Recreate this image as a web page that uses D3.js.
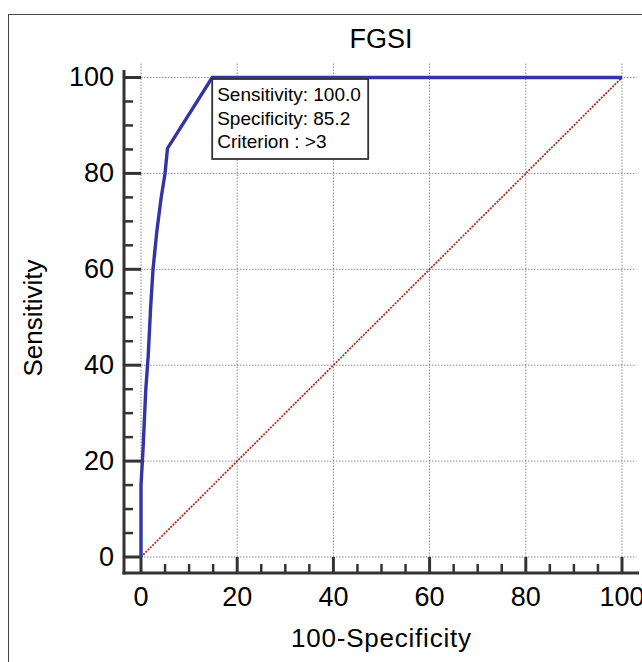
<!DOCTYPE html>
<html><head><meta charset="utf-8">
<script src="https://cdn.jsdelivr.net/npm/d3@7/dist/d3.min.js"></script>
<style>body{margin:0;background:#fff}svg{display:block}text{font-family:Arial,"Liberation Sans",sans-serif;fill:#000}</style>
</head><body>
<svg id="c" width="642" height="662"></svg>
<script>
const title = "FGSI";
const xLabel = "100-Specificity";
const yLabel = "Sensitivity";
const majorTicks = [0, 20, 40, 60, 80, 100];
const minorTicks = [5,10,15,25,30,35,45,50,55,65,70,75,85,90,95];
const rocFpr  = [0, 0, 0.4, 1.0, 1.5, 2.0, 2.5, 3.3, 4.2, 5.0, 5.5, 14.8, 100];
const rocSens = [0, 15, 22, 35, 42, 52, 60, 68, 75, 80, 85.2, 100, 100];
const diagX = [0, 100];
const diagY = [0, 100];
const boxLines = ["Sensitivity: 100.0", "Specificity: 85.2", "Criterion : >3"];
const criterion = [14.8, 100];

const svg = d3.select("#c");
const x = d3.scaleLinear().domain([0, 100]).range([141, 622]);
const y = d3.scaleLinear().domain([0, 100]).range([557, 77.5]);
const axisX = 124, axisY = 573;

// outer frame
svg.append("rect").attr("x", 8.5).attr("y", 14.5).attr("width", 700).attr("height", 700)
  .attr("fill", "none").attr("stroke", "#444").attr("stroke-width", 1);

// grid
const g = svg.append("g");
majorTicks.forEach(t => {
  g.append("line").attr("x1", x(t)).attr("x2", x(t)).attr("y1", y(0)).attr("y2", y(103))
    .attr("stroke", "#8a8a8a").attr("stroke-width", 1).attr("stroke-dasharray", "1.5,1.5");
  g.append("line").attr("x1", x(0)).attr("x2", x(103)).attr("y1", y(t)).attr("y2", y(t))
    .attr("stroke", "#8a8a8a").attr("stroke-width", 1).attr("stroke-dasharray", "1.5,1.5");
});

// axes lines
svg.append("line").attr("x1", axisX).attr("x2", axisX).attr("y1", 70).attr("y2", axisY + 1.5)
  .attr("stroke", "#333").attr("stroke-width", 3);
svg.append("line").attr("x1", axisX - 1.5).attr("x2", 639).attr("y1", axisY).attr("y2", axisY)
  .attr("stroke", "#333").attr("stroke-width", 3);

// ticks
majorTicks.forEach(t => {
  svg.append("line").attr("x1", axisX).attr("x2", x(0)).attr("y1", y(t)).attr("y2", y(t))
    .attr("stroke", "#333").attr("stroke-width", 3);
  svg.append("line").attr("x1", x(t)).attr("x2", x(t)).attr("y1", axisY).attr("y2", y(0))
    .attr("stroke", "#333").attr("stroke-width", 3);
  svg.append("text").attr("x", 114).attr("y", y(t)).attr("dy", "0.33em").attr("text-anchor", "end")
    .attr("font-size", 27).text(t);
  svg.append("text").attr("x", x(t)).attr("y", 606).attr("text-anchor", "middle")
    .attr("font-size", 27).text(t);
});
minorTicks.forEach(t => {
  svg.append("line").attr("x1", axisX).attr("x2", axisX + 9).attr("y1", y(t)).attr("y2", y(t))
    .attr("stroke", "#333").attr("stroke-width", 2.5);
  svg.append("line").attr("x1", x(t)).attr("x2", x(t)).attr("y1", axisY).attr("y2", axisY - 9)
    .attr("stroke", "#333").attr("stroke-width", 2.5);
});

// diagonal
const line = d3.line().x(d => x(d[0])).y(d => y(d[1]));
svg.append("path").attr("d", line(d3.zip(diagX, diagY))).attr("fill", "none")
  .attr("stroke", "#a8321e").attr("stroke-width", 1.8).attr("stroke-dasharray", "2,1.2");

// ROC curve
svg.append("path").attr("d", line(d3.zip(rocFpr, rocSens))).attr("fill", "none")
  .attr("stroke", "#3434a6").attr("stroke-width", 3.4).attr("stroke-linejoin", "miter");

// criterion box
const bx = x(criterion[0]), by = y(criterion[1]) + 1.5;
svg.append("rect").attr("x", bx).attr("y", by).attr("width", 156).attr("height", 80)
  .attr("fill", "#fff").attr("stroke", "#333").attr("stroke-width", 1.8);
boxLines.forEach((s, i) => {
  svg.append("text").attr("x", bx + 5).attr("y", by + 22 + i * 23.5)
    .attr("font-size", 19).text(s);
});

// titles
svg.append("text").attr("x", 381).attr("y", 48).attr("text-anchor", "middle").attr("font-size", 27).text(title);
svg.append("text").attr("x", 381).attr("y", 647).attr("text-anchor", "middle").attr("font-size", 26)
  .attr("textLength", 180).text(xLabel);
svg.append("text").attr("transform", "translate(42,318) rotate(-90)").attr("text-anchor", "middle")
  .attr("font-size", 26).text(yLabel);
</script>
</body></html>
